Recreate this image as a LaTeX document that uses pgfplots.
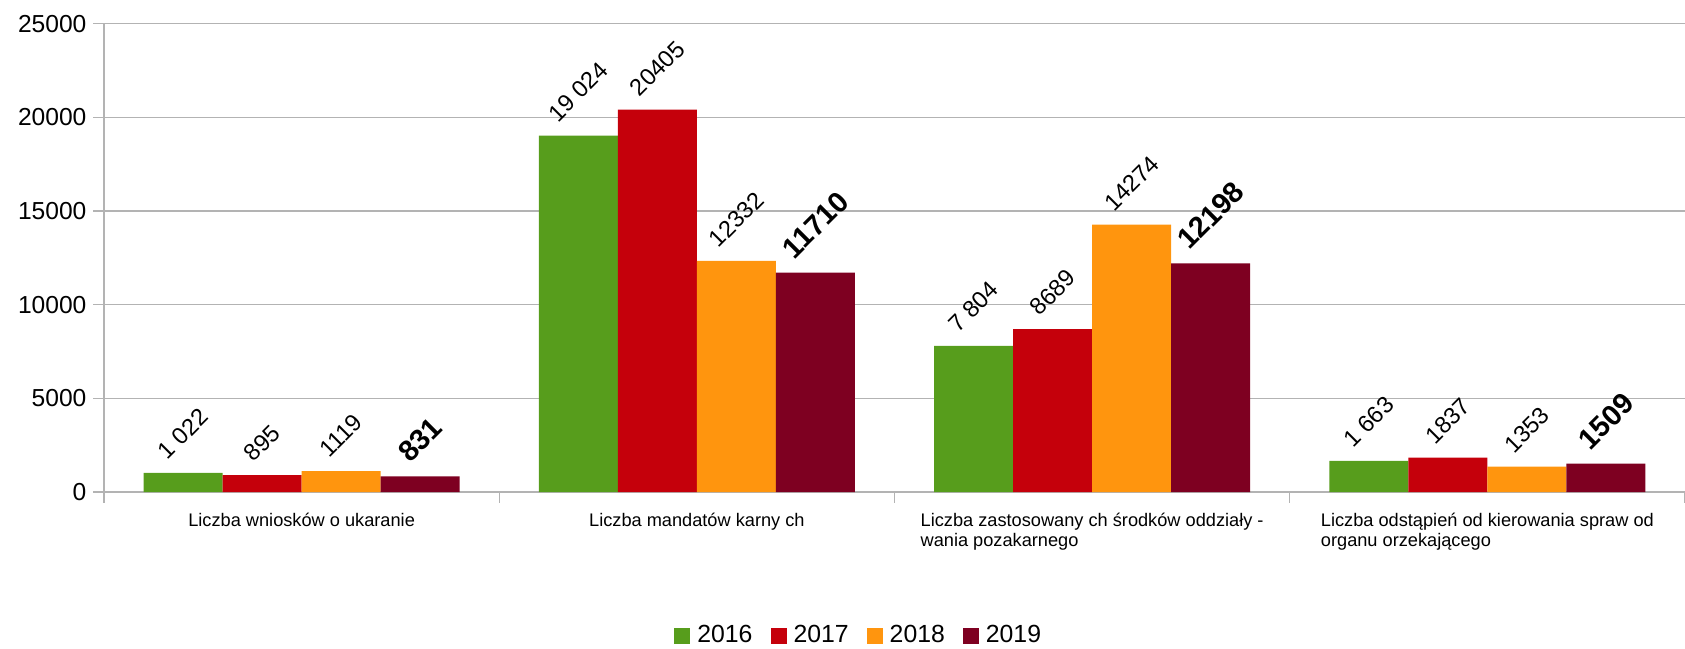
\documentclass[border=0pt]{standalone}
\usepackage{fontspec}
\setmainfont{Liberation Sans}
\usepackage{pgfplots}
\pgfplotsset{compat=1.18}
\definecolor{c2016}{HTML}{579D1C}
\definecolor{c2017}{HTML}{C5000B}
\definecolor{c2018}{HTML}{FF950E}
\definecolor{c2019}{HTML}{7E0021}
\definecolor{axisgray}{HTML}{B3B3B3}
\pgfplotsset{/pgfplots/ybar legend/.style={/pgfplots/legend image code/.code={\fill[##1] (0pt,-4pt) rectangle (8pt,4pt);}}}
\begin{document}
\begin{tikzpicture}
\path[use as bounding box] (-52pt,-78pt) rectangle (790.5pt,246pt);
\begin{axis}[
  scale only axis, width=790.5pt, height=234.2pt,
  ybar=0pt, bar width=0.2,
  xmin=-0.5, xmax=3.5, ymin=0, ymax=25000,
  xtick={0,1,2,3}, minor xtick={-0.5,0.5,1.5,2.5,3.5},
  xticklabels={{Liczba wniosków o ukaranie},{Liczba mandatów karny ch},{Liczba zastosowany ch środków oddziały -\\wania pozakarnego},{Liczba odstąpień od kierowania spraw od\\organu orzekającego}},
  ytick={0,5000,10000,15000,20000,25000},
  scaled y ticks=false,
  axis x line*=bottom, axis y line*=left,
  axis line style={draw=axisgray, line width=0.6pt},
  ymajorgrids, grid style={draw=axisgray, line width=0.6pt},
  tick align=outside, major tick length=5.25pt, minor tick length=5.25pt,
  major x tick style={draw=none},
  minor x tick style={draw=axisgray, line width=0.6pt},
  major y tick style={draw=axisgray, line width=0.6pt},
  /pgf/number format/assume math mode=true,
  /pgf/number format/1000 sep={},
  yticklabel style={font=\fontsize{12.3}{14}\selectfont},
  xticklabel style={font=\fontsize{9.1}{10}\selectfont, align=left, yshift=-2pt},
  every node near coord/.append style={anchor=south, inner sep=0pt, yshift=6pt, font=\fontsize{11.8}{13}\selectfont, text=black},
  legend style={draw=none, legend columns=-1, at={(0.478,-0.307)}, anchor=center, font=\fontsize{12.4}{14}\selectfont,
    /tikz/every odd column/.append style={column sep=1.5pt},
    /tikz/every even column/.append style={column sep=7pt}},
]
\addplot[fill=c2016, draw=none, point meta=explicit symbolic, nodes near coords={\rotatebox{45}{\pgfplotspointmeta}}]
  coordinates {(0,1022) [1 022] (1,19024) [19 024] (2,7804) [7 804] (3,1663) [1 663]};
\addplot[fill=c2017, draw=none, point meta=explicit symbolic, nodes near coords={\rotatebox{45}{\pgfplotspointmeta}}]
  coordinates {(0,895) [895] (1,20405) [20405] (2,8689) [8689] (3,1837) [1837]};
\addplot[fill=c2018, draw=none, point meta=explicit symbolic, nodes near coords={\rotatebox{45}{\pgfplotspointmeta}}]
  coordinates {(0,1119) [1119] (1,12332) [12332] (2,14274) [14274] (3,1353) [1353]};
\addplot[fill=c2019, draw=none, point meta=explicit symbolic, nodes near coords={\rotatebox{45}{\pgfplotspointmeta}},
  every node near coord/.append style={font=\bfseries\fontsize{14.5}{16}\selectfont}]
  coordinates {(0,831) [831] (1,11710) [11710] (2,12198) [12198] (3,1509) [1509]};
\legend{2016,2017,2018,2019}
\end{axis}
\end{tikzpicture}
\end{document}
